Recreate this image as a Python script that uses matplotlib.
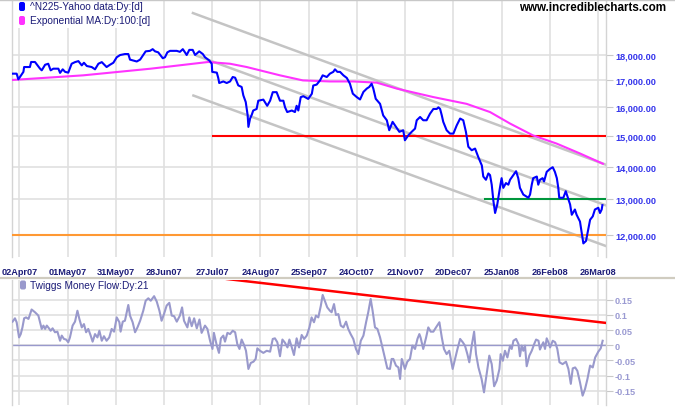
import matplotlib
matplotlib.use("Agg")
import matplotlib.pyplot as plt
from matplotlib.patches import FancyBboxPatch, Rectangle
from matplotlib.lines import Line2D
from matplotlib.ticker import NullLocator
from matplotlib.transforms import IdentityTransform

plt.rcParams['font.family'] = ['Liberation Sans', 'DejaVu Sans']

# x positions are trading days counted from 02Apr07 (one gridline every 20 bars)
px_bar = [-3.2, -1.1, -0.4, 1.7, 2.0, 4.4, 4.9, 6.5, 8.6, 9.3, 10.7, 12.0, 13.0, 14.1, 16.2,
          16.9, 18.0, 19.0, 20.3, 21.7, 23.1, 24.5, 25.9, 26.8, 28.0, 30.0, 31.4, 32.8, 34.2,
          36.2, 37.6, 39.0, 40.4, 41.8, 43.8, 45.2, 45.9, 48.7, 50.1, 51.4, 52.4, 54.2, 55.3,
          56.3, 57.6, 59.5, 60.4, 61.4, 62.5, 65.3, 66.6, 67.8, 68.7, 69.4, 70.5, 71.9, 72.9,
          74.6, 76.1, 77.0, 78.8, 79.8, 80.0, 81.9, 82.5, 82.9, 84.6, 86.0, 87.4, 88.5, 89.5,
          90.8, 92.2, 92.9, 93.9, 94.7, 95.0, 95.7, 96.4, 97.0, 98.4, 99.1, 101.2, 102.8, 104.0,
          105.1, 106.7, 108.1, 109.5, 110.2, 111.1, 113.0, 114.3, 115.0, 115.7, 116.7, 117.8,
          119.8, 121.3, 121.9, 123.3, 124.7, 125.8, 127.5, 128.8, 130.2, 130.9, 131.9, 133.0,
          134.4, 135.8, 137.1, 138.3, 139.9, 141.3, 142.7, 144.1, 145.1, 146.1, 146.8, 147.8,
          149.6, 150.9, 152.4, 153.4, 154.8, 156.2, 157.6, 159.2, 159.9, 161.3, 162.7, 164.1,
          164.8, 166.2, 167.5, 168.9, 170.3, 171.7, 173.1, 173.8, 174.5, 175.2, 175.8, 177.2,
          178.6, 180.0, 181.4, 182.8, 184.1, 185.2, 186.2, 187.6, 189.0, 190.3, 191.8, 192.4,
          193.5, 194.5, 195.2, 195.9, 196.6, 197.3, 198.2, 199.3, 200.0, 200.7, 201.8, 202.8,
          203.5, 204.9, 206.0, 206.9, 207.6, 209.0, 211.1, 211.8, 212.5, 213.1, 214.6, 215.2,
          215.9, 217.0, 217.6, 218.7, 220.1, 221.2, 222.1, 222.9, 223.5, 223.9, 225.6, 226.6,
          227.7, 228.4, 229.1, 230.4, 231.1, 232.5, 233.2, 233.9, 235.0, 236.0, 236.7, 237.8,
          238.7, 240.1, 240.8, 241.5, 241.8]
px_close = [17260, 17260, 17040, 17330, 17520, 17520, 17720, 17720, 17455, 17390, 17610, 17650,
            17390, 17455, 17455, 17290, 17430, 17330, 17300, 17650, 17715, 17755, 17585, 17690,
            17560, 17520, 17430, 17650, 17715, 17520, 17610, 17690, 17910, 18000, 18040, 18040,
            17815, 17740, 17815, 18000, 18150, 18170, 18240, 18150, 18110, 17870, 17910, 18110,
            18170, 18170, 18130, 18240, 18110, 18000, 18210, 18210, 18000, 18150, 18040, 17910,
            17780, 17650, 17330, 17300, 17095, 16900, 16960, 16900, 16960, 17130, 17105, 16810,
            16750, 16435, 16190, 15710, 15310, 15600, 15735, 15885, 15940, 16240, 16280, 16055,
            16240, 16555, 16555, 16240, 16240, 16000, 15830, 15885, 15830, 16055, 15885, 16370,
            16405, 16305, 16495, 16805, 16840, 17000, 17195, 17130, 17260, 17330, 17430, 17330,
            17330, 17195, 17095, 16875, 16500, 16375, 16285, 16565, 16690, 16750, 16875, 16690,
            16310, 16125, 15710, 15540, 15195, 15485, 15310, 15140, 15195, 14855, 15020, 15140,
            15250, 15540, 15655, 15540, 15540, 15770, 15940, 15940, 16000, 15940, 15710, 15485,
            15195, 15080, 15080, 15365, 15600, 15540, 15140, 14640, 14525, 14580, 14310, 14035,
            13690, 13590, 13785, 13735, 13440, 12955, 12610, 12855, 13345, 13640, 13345, 13490,
            13440, 13590, 13735, 13855, 13640, 13345, 13145, 13050, 13145, 13440, 13640, 13690,
            13440, 13590, 13640, 13540, 13835, 13930, 13980, 13835, 13640, 13345, 13050, 13050,
            13245, 13000, 12855, 12560, 12710, 12560, 12370, 12075, 11775, 11840, 12175, 12420,
            12515, 12710, 12760, 12610, 12710, 12835]

ema_bar = [-3.2, 26.5, 54.5, 78.3, 87.4, 94.3, 108.1, 117.6, 128.8, 138.4, 148.2, 156.5, 171.6,
           185.5, 195.2, 203.5, 213.0, 222.8, 232.5, 242.0]
ema_val = [17015, 17195, 17455, 17720, 17650, 17520, 17195, 17000, 16960, 16960, 16915, 16690,
           16375, 16125, 15830, 15425, 15020, 14745, 14420, 14090]

tmf_bar = [-2.8, -1.8, -1.1, -0.1, 0.6, 1.3, 2.0, 2.8, 3.8, 4.2, 5.1, 6.5, 7.9, 8.6, 9.3, 10.0,
           10.7, 11.4, 12.3, 13.0, 13.8, 14.8, 15.8, 16.9, 17.6, 18.5, 19.4, 20.3, 21.0, 22.1,
           23.1, 24.1, 24.9, 25.9, 26.8, 27.7, 28.6, 29.6, 30.4, 31.4, 32.4, 33.2, 34.2, 35.1,
           36.2, 37.3, 38.3, 39.3, 40.4, 41.5, 42.0, 42.9, 43.8, 45.2, 45.9, 47.0, 48.0, 49.0,
           50.1, 51.4, 52.4, 53.5, 54.5, 55.9, 57.0, 58.1, 59.0, 60.0, 61.1, 62.2, 63.2, 64.2,
           65.3, 66.6, 67.5, 68.3, 69.7, 70.5, 71.5, 72.5, 73.6, 74.7, 75.6, 77.0, 78.0, 79.1,
           80.1, 80.7, 81.9, 82.8, 83.6, 84.6, 85.3, 86.3, 87.4, 88.5, 89.5, 90.4, 91.3, 92.2,
           93.2, 94.0, 95.0, 96.0, 97.1, 98.0, 98.7, 99.8, 101.2, 102.6, 104.0, 105.1, 106.0,
           107.0, 108.1, 109.1, 110.2, 111.2, 112.0, 113.0, 113.9, 115.0, 116.0, 117.1, 118.1,
           119.2, 120.3, 121.2, 122.2, 123.0, 124.0, 125.0, 125.8, 126.8, 127.7,
           128.8, 129.5, 130.5, 131.3, 132.3, 133.3, 134.4, 135.5, 136.4, 137.4, 138.5, 139.6,
           140.6, 141.6, 142.7, 143.8, 144.7, 145.7, 146.5, 147.5, 148.5, 149.6, 150.7, 151.7,
           152.6, 153.7, 154.4, 155.1, 156.2, 157.2, 157.9, 158.6, 159.3, 159.9, 160.9, 162.0,
           163.0, 164.1, 165.1, 165.9, 166.4, 167.5, 168.7, 169.6, 170.6, 171.7, 172.8, 174.2,
           175.2, 176.1, 177.2, 178.3, 179.7, 180.7, 181.7, 182.8, 183.9, 184.8, 185.8, 186.6,
           187.6, 188.6, 189.4, 190.4, 191.7, 192.7, 193.8, 194.9, 195.9, 196.9, 198.0, 199.1,
           199.6, 200.5, 201.4, 202.4, 203.5, 204.2, 204.9, 206.0, 207.0, 207.6, 208.3, 209.0,
           209.7, 210.4, 211.5, 212.5, 213.5, 214.3, 215.3, 215.9, 216.6, 217.3, 218.0, 218.7,
           219.4, 220.1, 221.2, 222.2, 223.1, 224.0, 225.3, 226.7, 227.7, 228.7, 229.5, 230.5,
           231.4, 232.5, 233.6, 234.6, 235.6, 236.7, 237.8, 238.8, 240.1, 241.1, 241.9]
tmf_val = [0.078, 0.089, 0.076, 0.026, 0.037, 0.059, 0.089, 0.092, 0.087, 0.096, 0.118, 0.109,
           0.098, 0.076, 0.054, 0.065, 0.054, 0.065, 0.056, 0.048, 0.056, 0.043, 0.045, 0.015,
           0.032, 0.021, 0.019, 0.010, 0.026, 0.065, 0.078, 0.114, 0.087, 0.059, 0.070, 0.043,
           0.054, 0.032, 0.012, 0.037, 0.026, 0.048, 0.015, 0.030, 0.015, 0.026, 0.054, 0.045,
           0.092, 0.076, 0.045, 0.078, 0.081, 0.133, 0.098, 0.076, 0.043, 0.059, 0.081, 0.114,
           0.147, 0.155, 0.147, 0.162, 0.144, 0.114, 0.081, 0.103, 0.131, 0.140, 0.098, 0.096,
           0.078, 0.098, 0.125, 0.081, 0.059, 0.092, 0.063, 0.089, 0.056, 0.085, 0.041, 0.065,
           0.054, 0.015, -0.012, 0.041, -0.001, -0.025, 0.023, 0.032, 0.012, 0.041, 0.037, 0.048,
           0.043, 0.004, -0.012, 0.019, 0.001, -0.018, -0.078, -0.058, -0.054, -0.045, -0.010,
           -0.018, -0.025, -0.018, -0.021, 0.021, 0.023, 0.010, -0.036, 0.019, 0.008, -0.007,
           0.019, -0.007, -0.032, 0.023, -0.007, 0.034, 0.021, 0.032, 0.059, 0.092, 0.076, 0.098,
           0.092, 0.129, 0.166, 0.144, 0.125,
           0.114, 0.109, 0.136, 0.100, 0.103, 0.065, 0.059, 0.078, 0.054, 0.037, 0.021, -0.012,
           -0.029, 0.015, 0.032, 0.076, 0.109, 0.153, 0.114, 0.059, 0.054, 0.026, -0.012, -0.045,
           -0.076, -0.078, -0.045, -0.045, -0.067, -0.073, -0.111, -0.045, -0.062, -0.078, -0.054,
           -0.045, -0.001, -0.012, 0.021, 0.037, 0.026, -0.012, 0.026, 0.059, 0.045, 0.045, 0.059,
           0.076, 0.026, -0.012, -0.029, -0.018, -0.078, -0.045, -0.012, 0.021, 0.010, -0.001,
           -0.029, -0.056, -0.001, 0.045, -0.029, -0.073, -0.111, -0.155, -0.095, -0.034, -0.062,
           -0.135, -0.116, -0.078, -0.029, -0.051, -0.018, -0.040, -0.001, -0.012, 0.015, 0.021,
           0.004, -0.036, -0.001, -0.018, -0.001, -0.069, -0.034, -0.018, 0.004, 0.019, 0.015,
           -0.014, -0.001, 0.010, -0.012, 0.023, 0.010, -0.007, 0.015, 0.010, -0.012, -0.056,
           -0.062, -0.054, -0.078, -0.127, -0.076, -0.073, -0.084, -0.122, -0.166, -0.144, -0.111,
           -0.067, -0.073, -0.040, -0.021, -0.010, 0.015]

# trend channel and support/resistance lines drawn on the chart
chan_up_bar, chan_up_val = [72.0, 243.6], [19785, 14050]
chan_mid_bar, chan_mid_val = [73.7, 243.6], [17967, 12820]
chan_low_bar, chan_low_val = [72.2, 243.6], [16430, 11698]
res_red = 15000
res_red_from = 80.5
sup_green = 13000
sup_green_from = 193.1
sup_orange = 12000
tmf_trend_bar, tmf_trend_val = [86.1, 243.6], [0.2186, 0.0735]

date_ticks = [0, 20, 40, 60, 80, 100, 120, 140, 160, 180, 200, 220, 240]
date_labels = ["02Apr07", "01May07", "31May07", "28Jun07", "27Jul07", "24Aug07", "25Sep07",
               "24Oct07", "21Nov07", "20Dec07", "25Jan08", "26Feb08", "26Mar08"]
price_ticks = [12000, 13000, 14000, 15000, 16000, 17000, 18000]
price_labels = ["12,000.00", "13,000.00", "14,000.00", "15,000.00", "16,000.00",
                "17,000.00", "18,000.00"]
tmf_ticks = [-0.15, -0.1, -0.05, 0, 0.05, 0.1, 0.15]
tmf_labels = ["-0.15", "-0.1", "-0.05", "0", "0.05", "0.1", "0.15"]

W, H = 675, 410
fig = plt.figure(figsize=(W / 100, H / 100), dpi=100)
ax = fig.add_axes([12 / W, 1 - 258 / H, 594 / W, 256 / H])
ax2 = fig.add_axes([12 / W, 1 - 406 / H, 594 / W, 125 / H])

grid_c = '#e0e0e0'
for a in (ax, ax2):
    a.set_xlim(-3.03, 243.29)
    a.set_xticks(date_ticks)
    a.grid(True, color=grid_c, lw=1.2)
    a.set_axisbelow(True)
    a.yaxis.tick_right()
    for s in ('top', 'bottom'):
        a.spines[s].set_visible(False)
    for s in ('left', 'right'):
        a.spines[s].set_color('#d4d4d4')
        a.spines[s].set_linewidth(1.0)

# price panel
ax.set_yscale('log')
ax.set_ylim(11420, 20330)
ax.yaxis.set_minor_locator(NullLocator())
ax.set_yticks(price_ticks, price_labels)
ax.xaxis.set_minor_locator(NullLocator())
ax.set_xticklabels(date_labels)
ax.tick_params(axis='y', length=5, color='#c8c8c8', pad=1.5, labelsize=6.6, labelcolor='#3434ec')
ax.tick_params(axis='x', length=0, pad=7, labelsize=6.6, labelcolor='#1c1c78')
for lbl in ax.get_xticklabels() + ax.get_yticklabels():
    lbl.set_fontweight('bold')

ax.add_patch(Rectangle((0, 0.895), 0.235, 0.105, transform=ax.transAxes,
                       facecolor='white', edgecolor='none', zorder=1.5))

ax.plot(chan_up_bar, chan_up_val, color='#c4c4c4', lw=1.8, zorder=2)
ax.plot(chan_mid_bar, chan_mid_val, color='#c4c4c4', lw=1.8, zorder=2)
ax.plot(chan_low_bar, chan_low_val, color='#c4c4c4', lw=1.8, zorder=2)
ax.plot([res_red_from, 243.29], [res_red, res_red], color='#ff0000', lw=1.5, zorder=3)
ax.plot([sup_green_from, 243.29], [sup_green, sup_green], color='#00963c', lw=1.5, zorder=3)
ax.plot([-3.03, 243.29], [sup_orange, sup_orange], color='#ff9933', lw=1.5, zorder=3)
ax.plot(ema_bar, ema_val, color='#ff33ff', lw=1.5, zorder=4)
ax.plot(px_bar, px_close, color='#0000ff', lw=1.5, zorder=5)

# money flow panel
ax2.set_ylim(-0.1968, 0.2153)
ax2.set_yticks(tmf_ticks, tmf_labels)
ax2.set_xticklabels([])
ax2.tick_params(axis='y', length=5, color='#c8c8c8', pad=1.5, labelsize=6.6, labelcolor='#9a9ad2')
ax2.tick_params(axis='x', length=0)
for lbl in ax2.get_yticklabels():
    lbl.set_fontweight('bold')
ax2.axhline(0, color='#9999cc', lw=1.0, zorder=2)
ax2.plot(tmf_trend_bar, tmf_trend_val, color='#ff0000', lw=1.8, zorder=3)
ax2.plot(tmf_bar, tmf_val, color='#9999cc', lw=1.5, zorder=4)

# legends, title, separator
px = IdentityTransform()
def legend_item(x, y, color, text):
    fig.add_artist(FancyBboxPatch((x, H - y - 4.5), 6, 9, boxstyle='round,pad=0,rounding_size=2',
                                  transform=px, facecolor=color, edgecolor='none'))
    fig.text(29.5 / W, 1 - y / H, text, ha='left', va='center', fontsize=7.3, color='#1c1c78')

legend_item(19, 7.5, '#0000ff', '^N225-Yahoo data:Dy:[d]')
legend_item(19, 21.5, '#ff33ff', 'Exponential MA:Dy:100:[d]')
legend_item(20, 286, '#9999cc', 'Twiggs Money Flow:Dy:21')

fig.text(666 / W, 1 - 8 / H, 'www.incrediblecharts.com', ha='right', va='center',
         fontsize=8.4, fontweight='bold', color='black')

fig.add_artist(Line2D([0, 1], [1 - 278.5 / H] * 2, color='#d0ccc0', lw=1.6))
fig.add_artist(Line2D([0, 1], [1 - 0.5 / H] * 2, color='#c8c8c8', lw=1.0))

fig.savefig('out.png', dpi=100, facecolor='white')
